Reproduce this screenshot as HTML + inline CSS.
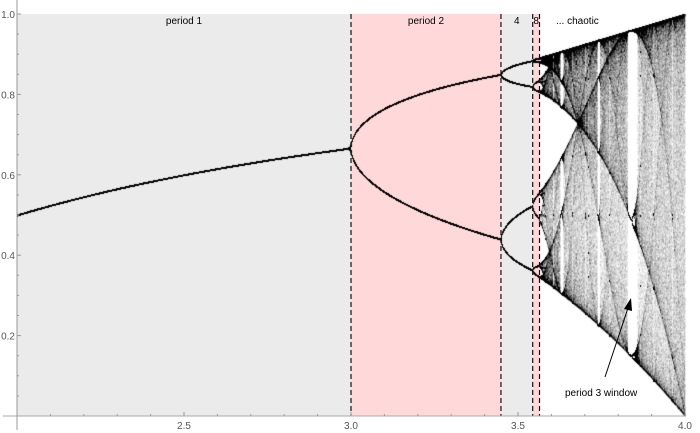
<!DOCTYPE html>
<html><head><meta charset="utf-8"><style>
html,body{margin:0;padding:0;background:#fff;width:700px;height:433px;overflow:hidden}
#wrap{position:relative;width:700px;height:433px}
svg,canvas{position:absolute;left:0;top:0}
text{font-family:"Liberation Sans",sans-serif}
</style></head><body>
<div id="wrap">
<svg id="bg" width="700" height="433"></svg>
<canvas id="cv" width="700" height="433"></canvas>
<svg id="fg" width="700" height="433"></svg>
</div>
<script>
const rDomain = [2.0, 4.0];
const xDomainTicks = [2.5, 3.0, 3.5, 4.0];
const xTickLabels = ["2.5", "3.0", "3.5", "4.0"];
const yTicks = [0.2, 0.4, 0.6, 0.8, 1.0];
const yTickLabels = ["0.2", "0.4", "0.6", "0.8", "1.0"];
const regionStarts = [2.0, 3.0, 3.449, 3.544, 3.5644];
const regionEnds = [3.0, 3.449, 3.544, 3.5644, 3.5699];
const regionLabels = ["period 1", "period 2", "4", "8"];
const dividers = [3.0, 3.449, 3.544, 3.5644];

const NS = "http://www.w3.org/2000/svg";
const L = 17, R = 685, T = 14, B = 416;
function xs(r){ return L + (r - rDomain[0]) / (rDomain[1] - rDomain[0]) * (R - L); }
function ys(v){ return B - v * (B - T); }
function mk(parent, tag, attrs){
  const e = document.createElementNS(NS, tag);
  for (const k in attrs) e.setAttribute(k, attrs[k]);
  parent.appendChild(e); return e;
}
const bg = document.getElementById('bg'), fg = document.getElementById('fg');
const fills = ["#ebebeb", "#ffd9d9", "#ebebeb", "#ffd9d9", "#ffffff"];
for (let i = 0; i < regionStarts.length; i++) {
  const rc = mk(bg, 'rect', {x: xs(regionStarts[i]), y: T, width: xs(regionEnds[i]) - xs(regionStarts[i]), height: B - T, fill: fills[i]});
  
  
}
const cv = document.getElementById('cv'), ctx = cv.getContext('2d');
const W = 700, H = 433;
const hits = new Float32Array(W * H);
for (let px = L; px <= R; px++) {
  for (let s = 0; s < 3; s++) {
    const r = rDomain[0] + (px - L + s / 3) / (R - L) * (rDomain[1] - rDomain[0]);
    let x = 0.31;
    for (let i = 0; i < 400; i++) x = r * x * (1 - x);
    for (let i = 0; i < 700; i++) {
      x = r * x * (1 - x);
      const iy = Math.floor(ys(x));
      if (iy >= 0 && iy < H - 1) {
        hits[iy * W + px] += 1;
        hits[(iy + 1) * W + px] += 0.4;
      }
    }
  }
}
const img = ctx.createImageData(W, H);
for (let i = 0; i < W * H; i++) {
  const a = Math.min(1, hits[i] * 0.035);
  img.data[i * 4 + 3] = Math.round(a * 255);
}
ctx.putImageData(img, 0, 0);

dividers.forEach((d, i) => {
  const ln = mk(fg, 'line', {x1: xs(d), x2: xs(d), y1: T, y2: B, stroke: "#111", 'stroke-width': 1.2, 'stroke-dasharray': "5,3"});
  
  
});
regionLabels.forEach((t, i) => {
  const cx = (xs(regionStarts[i]) + xs(regionEnds[i])) / 2;
  const tx = mk(fg, 'text', {x: cx, y: 24, 'font-size': 10, 'text-anchor': 'middle', fill: '#000'});
  tx.textContent = t;
  
  
});
const ch = mk(fg, 'text', {x: 556, y: 24, 'font-size': 10, fill: '#000'});
ch.textContent = "... chaotic";



const xa = mk(fg, 'line', {x1: 3, x2: R, y1: B, y2: B, stroke: '#aaa', 'stroke-width': 1});


const ya = mk(fg, 'line', {x1: L, x2: L, y1: 0, y2: 430, stroke: '#999', 'stroke-width': 1});


for (let k = 1; k <= 20; k++) {
  const r = 2 + k * 0.1;
  const major = k % 5 === 0;
  mk(fg, 'line', {x1: xs(r), x2: xs(r), y1: B, y2: B - (major ? 4 : 2), stroke: '#999', 'stroke-width': 1});
}
for (let k = 1; k <= 20; k++) {
  const v = k * 0.05;
  const major = k % 4 === 0;
  mk(fg, 'line', {x1: L, x2: L + (major ? 4 : 2), y1: ys(v), y2: ys(v), stroke: '#999', 'stroke-width': 1});
}
xDomainTicks.forEach((r, i) => {
  const t = mk(fg, 'text', {x: xs(r), y: 429, 'font-size': 10, 'text-anchor': 'middle', fill: '#555'});
  t.textContent = xTickLabels[i];
  
  
});
yTicks.forEach((v, i) => {
  const t = mk(fg, 'text', {x: 15, y: ys(v) + 4, 'font-size': 10, 'text-anchor': 'end', fill: '#555'});
  t.textContent = yTickLabels[i];
  
  
});
const ar = mk(fg, 'line', {x1: 605, y1: 377, x2: 628, y2: 308, stroke: '#000', 'stroke-width': 1});


const ah = mk(fg, 'polygon', {points: "631,298 624,309 632,311", fill: '#000'});


const at = mk(fg, 'text', {x: 565, y: 396, 'font-size': 10, fill: '#000'});
at.textContent = "period 3 window";


</script>
</body></html>
